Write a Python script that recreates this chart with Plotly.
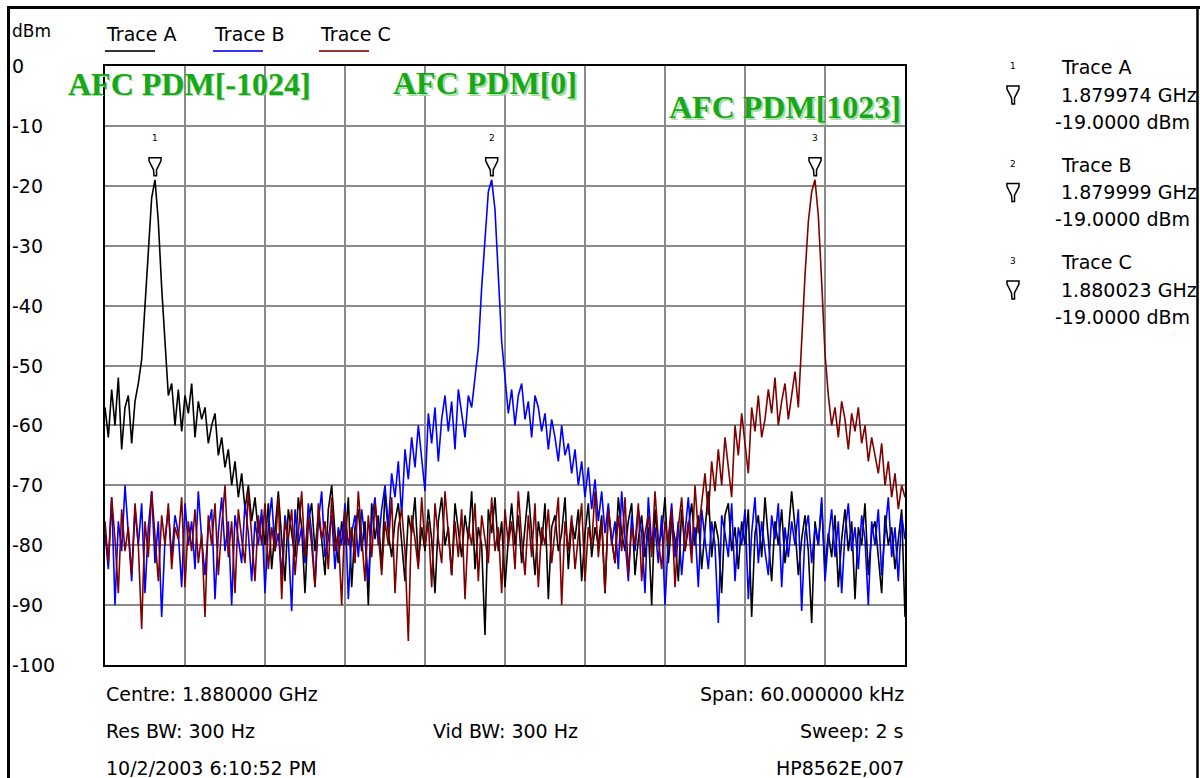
import numpy as np
import plotly.graph_objects as go

# ---------------- data ----------------
span_start_khz = -30.0
step_khz = 0.25          # sweep point spacing (kHz offset from centre)
y_ticks = [0, -10, -20, -30, -40, -50, -60, -70, -80, -90, -100]

trace_names = ["Trace A", "Trace B", "Trace C"]
trace_colors = ["#000000", "#0000FF", "#800000"]

trace_a = [
    -57, -62, -54, -60, -52, -64, -57, -55, -63, -56,
    -53, -49, -40, -30, -22,
    -19,
    -26, -37, -47, -55,
    -53, -60, -54, -61, -55, -58, -53, -62, -56, -59, -57, -63, -60, -58, -65, -62, -67,
    -64, -70, -66, -72, -68, -74, -70, -76, -72, -78,
    -75, -80, -73, -84, -77, -71, -79, -86, -74, -78,
    -82, -72, -77, -88, -76, -73, -81, -75, -79, -85,
    -74, -70, -78, -83, -76, -80, -72, -87, -77, -74,
    -81, -76, -90, -73, -79, -75, -84, -71, -78, -82,
    -76, -73, -80, -86, -75, -78, -72, -83, -77, -81,
    -74, -79, -88, -76, -72, -80, -77, -85, -73, -78,
    -82, -75, -79, -71, -84, -77, -80, -95, -74, -78,
    -72, -81, -76, -87, -79, -73, -80, -75, -83, -77,
    -71, -78, -85, -76, -80, -73, -89, -77, -75, -81,
    -78, -72, -84, -76, -79, -74, -86, -78, -73, -82,
    -77, -80, -75, -88, -74, -79, -83, -72, -78, -81,
    -76, -73, -85, -79, -75, -82, -77, -90, -74, -80,
    -78, -72, -83, -76, -79, -86, -74, -81, -77, -73,
    -80, -75, -84, -78, -71, -82, -76, -79, -88, -75,
    -73, -81, -77, -84, -76, -80, -74, -92, -78, -75,
    -82, -72, -79, -86, -76, -80, -74, -83, -78, -71,
    -77, -85, -79, -75, -81, -93, -76, -80, -73, -84,
    -78, -82, -75, -87, -79, -74, -81, -76, -89, -77,
    -80, -73, -85, -78, -76, -82, -88, -75, -80, -77,
    -84, -79, -74, -92,
]

trace_b = [
    -78, -84, -72, -90, -76, -81, -70, -79, -86, -74,
    -80, -73, -88, -77, -71, -83, -76, -92, -79, -74,
    -82, -75, -78, -87, -73, -80, -76, -84, -71, -79,
    -85, -77, -74, -89, -78, -72, -81, -76, -90, -75,
    -79, -83, -73, -78, -86, -76, -80, -74, -88, -77,
    -72, -81, -78, -85, -75, -79, -91, -74, -80, -77,
    -83, -73, -78, -87, -76, -71, -82, -79, -75, -84,
    -77, -80, -73, -89, -78, -75, -82, -74, -79, -86,
    -76, -72, -80,
    -74, -70, -77, -68, -72, -66, -75, -64, -69, -62,
    -67, -60, -65, -71, -58, -63, -57, -66, -59, -55,
    -61, -56, -64, -54, -58, -62, -55, -57, -52,
    -47, -37, -28, -21, -19, -24, -35, -46,
    -52, -58, -54, -60, -55, -53, -59, -56, -62, -55,
    -57, -61, -58, -64, -59, -62, -66, -60, -65, -63,
    -68, -64, -70, -66, -72, -67, -74, -69, -76, -71, -78,
    -73, -80, -76, -84, -71, -79, -86, -75, -81, -74,
    -78, -88, -72, -80, -77, -83, -75, -90, -79, -73,
    -82, -76, -85, -78, -72, -81, -77, -87, -74, -79,
    -84, -76, -80, -93, -75, -78, -82, -73, -86, -77,
    -80, -74, -89, -78, -72, -83, -76, -81, -85, -75,
    -79, -73, -87, -77, -82, -76, -80, -74, -91, -78,
    -75, -83, -77, -80, -72, -86, -79, -74, -82, -76,
    -88, -78, -73, -81, -77, -84, -75, -79, -90, -76,
    -80, -74, -85, -78, -72, -82, -77, -86, -75, -79,
]

trace_c = [
    -76, -83, -72, -79, -88, -74, -81, -77, -85, -73,
    -80, -94, -76, -82, -71, -78, -86, -75, -80, -73,
    -84, -77, -79, -72, -87, -76, -81, -74, -83, -78,
    -92, -75, -80, -73, -85, -77, -70, -82, -76, -88,
    -74, -79, -83, -71, -78, -86, -75, -80, -73, -84,
    -77, -81, -72, -89, -76, -79, -74, -85, -78, -71,
    -82, -75, -80, -87, -73, -79, -76, -84, -72, -81,
    -78, -90, -74, -80, -77, -83, -71, -79, -86, -75,
    -82, -73, -78, -85, -76, -80, -72, -88, -77, -74,
    -81, -96, -75, -79, -84, -72, -80, -76, -87, -73,
    -79, -83, -71, -78, -85, -76, -82, -74, -89, -77,
    -80, -73, -86, -75, -79, -83, -72, -81, -77, -88,
    -74, -80, -76, -84, -71, -79, -85, -75, -82, -73,
    -87, -77, -80, -74, -83, -78, -72, -90, -76, -81,
    -75, -84, -79, -73, -86, -77, -80, -71, -82, -76,
    -88, -74, -79, -83, -75, -81, -72, -85, -77, -80,
    -73, -86, -78, -75, -82, -71, -79, -84, -76, -80,
    -74, -87, -77, -72, -81, -76, -83, -70, -78,
    -73, -68, -75, -66, -71, -64, -70, -62, -67, -72,
    -60, -65, -58, -63, -68, -57, -61, -55, -62, -59,
    -54, -58, -52, -60, -56, -53, -59, -55, -51, -57,
    -45, -35, -26, -21, -19, -25, -36, -48,
    -55, -60, -57, -62, -56, -59, -64, -58, -61, -57,
    -63, -60, -66, -62, -65, -68, -63, -70, -66, -72,
    -68, -74, -70, -72,
]

marker_labels = ["1", "2", "3"]
marker_freqs = ["1.879974 GHz", "1.879999 GHz", "1.880023 GHz"]
marker_levels = ["-19.0000 dBm", "-19.0000 dBm", "-19.0000 dBm"]

peak_labels = ["AFC PDM[-1024]", "AFC PDM[0]", "AFC PDM[1023]"]

info_left = ["Centre: 1.880000 GHz", "Res BW: 300 Hz", "10/2/2003 6:10:52 PM"]
info_mid = ["", "Vid BW: 300 Hz", ""]
info_right = ["Span: 60.000000 kHz", "Sweep: 2 s", "HP8562E,007"]

# ---------------- layout geometry (pixels) ----------------
W, H = 1200, 778
L, R, T, B = 105, 905, 66, 665
PW, PH = R - L, B - T


def px(xp):
    return (xp - L) / PW


def py(yp):
    return (B - yp) / PH


UI_FONT = "DejaVu Sans, Verdana, sans-serif"
FS = 19
SERIF = "Liberation Serif, Times New Roman, serif"


def text(xp, yp, s, size=FS, xanchor="left", family=UI_FONT, color="black"):
    return dict(x=px(xp), y=py(yp), xref="paper", yref="paper", text=s,
                xanchor=xanchor, yanchor="middle", showarrow=False,
                font=dict(family=family, size=size, color=color))


# funnel-shaped marker glyph, in pixel offsets (y up) from its anchor point
FUNNEL = [(-6, 0), (6, 0), (6, -3), (1.5, -12), (1.5, -18), (-1, -18), (-1.5, -12), (-6, -3)]


def funnel(xa, ya, xref, yref, lift):
    d = "M " + " L ".join(f"{a:.1f},{b + lift:.1f}" for a, b in FUNNEL) + " Z"
    return dict(type="path", xref=xref, yref=yref, xsizemode="pixel", ysizemode="pixel",
                xanchor=xa, yanchor=ya, path=d,
                line=dict(color="black", width=1.5), fillcolor="rgba(0,0,0,0)")


fig = go.Figure()
all_traces = [trace_a, trace_b, trace_c]
for name, col, vals in zip(trace_names, trace_colors, all_traces):
    f = span_start_khz + step_khz * np.arange(len(vals))
    fig.add_trace(go.Scatter(x=f, y=vals, mode="lines", name=name,
                             line=dict(color=col, width=1.6), showlegend=False,
                             hoverinfo="skip"))

annotations = []
shapes = []

# peak markers on the traces
for k, vals in enumerate(all_traces):
    idx = int(np.argmax(vals))
    fpk = span_start_khz + step_khz * idx
    lvl = vals[idx]
    shapes.append(funnel(fpk, lvl, "x", "y", 22))
    annotations.append(dict(x=fpk, y=lvl, xref="x", yref="y", text=marker_labels[k],
                            xanchor="center", yanchor="middle",
                            showarrow=False, yshift=42,
                            font=dict(family=UI_FONT, size=9, color="black")))

# green labels (with soft shadow)
green_pos = [(189, 84), (485, 83), (785, 107)]
for txt, (gx, gy) in zip(peak_labels, green_pos):
    annotations.append(text(gx + 1.5, gy + 1.5, f"<b>{txt}</b>", size=32,
                            xanchor="center", family=SERIF, color="#a8dca8"))
    annotations.append(text(gx, gy, f"<b>{txt}</b>", size=32,
                            xanchor="center", family=SERIF, color="#17a817"))

# y tick labels and unit
for v in y_ticks:
    annotations.append(dict(x=px(10), y=v, xref="paper", yref="y", text=str(v),
                            xanchor="left", yanchor="middle", showarrow=False,
                            font=dict(family=UI_FONT, size=FS, color="black")))
annotations.append(text(10, 31, "dBm", size=FS - 2))

# top legend
leg_x = [105, 213, 319]
leg_line_cols = ["#333333", "#3333ff", "#993333"]
for name, lx, lc in zip(trace_names, leg_x, leg_line_cols):
    annotations.append(text(lx - 1, 34, name))
    shapes.append(dict(type="line", xref="paper", yref="paper",
                       x0=px(lx), x1=px(lx + 50), y0=py(51), y1=py(51),
                       line=dict(color=lc, width=2)))

# right marker panel
for k in range(3):
    top = 67 + k * 97.5
    annotations.append(text(1013, top - 1, marker_labels[k], size=9, xanchor="center"))
    shapes.append(funnel(px(1013), py(top + 19), "paper", "paper", 0))
    annotations.append(text(1059, top, trace_names[k]))
    annotations.append(text(1059, top + 27.5, marker_freqs[k]))
    annotations.append(text(1053, top + 55, marker_levels[k]))

# bottom info rows
rows_y = [694, 731, 768]
for txt, ry in zip(info_left, rows_y):
    annotations.append(text(104, ry, txt))
for txt, ry in zip(info_mid, rows_y):
    if txt:
        annotations.append(text(505, ry, txt, xanchor="center"))
for txt, ry in zip(info_right, rows_y):
    annotations.append(text(906, ry, txt, xanchor="right"))

# outer window frame
shapes.append(dict(type="line", xref="paper", yref="paper", x0=px(8.5), x1=px(8.5),
                   y0=py(6), y1=py(790), line=dict(color="black", width=3)))
shapes.append(dict(type="line", xref="paper", yref="paper", x0=px(7), x1=px(1200),
                   y0=py(7.5), y1=py(7.5), line=dict(color="black", width=3)))
shapes.append(dict(type="line", xref="paper", yref="paper", x0=px(1197.5), x1=px(1197.5),
                   y0=py(6), y1=py(790), line=dict(color="black", width=2.5)))

axis_common = dict(showgrid=True, gridcolor="#8a8a8a", gridwidth=1.6,
                   showline=True, mirror=True, linecolor="black", linewidth=2,
                   zeroline=False, showticklabels=False, ticks="", fixedrange=True)

fig.update_layout(
    width=W, height=H,
    margin=dict(l=L, r=W - R, t=T, b=H - B, pad=0),
    paper_bgcolor="white", plot_bgcolor="white",
    xaxis=dict(range=[-30, 30], tick0=-30, dtick=6, **axis_common),
    yaxis=dict(range=[-100, 0], tick0=0, dtick=10, **axis_common),
    annotations=annotations, shapes=shapes,
    showlegend=False,
)

fig.write_html("out.html", config={"displayModeBar": False},
               post_script="document.body.style.margin='0';document.body.style.overflow='hidden';")
